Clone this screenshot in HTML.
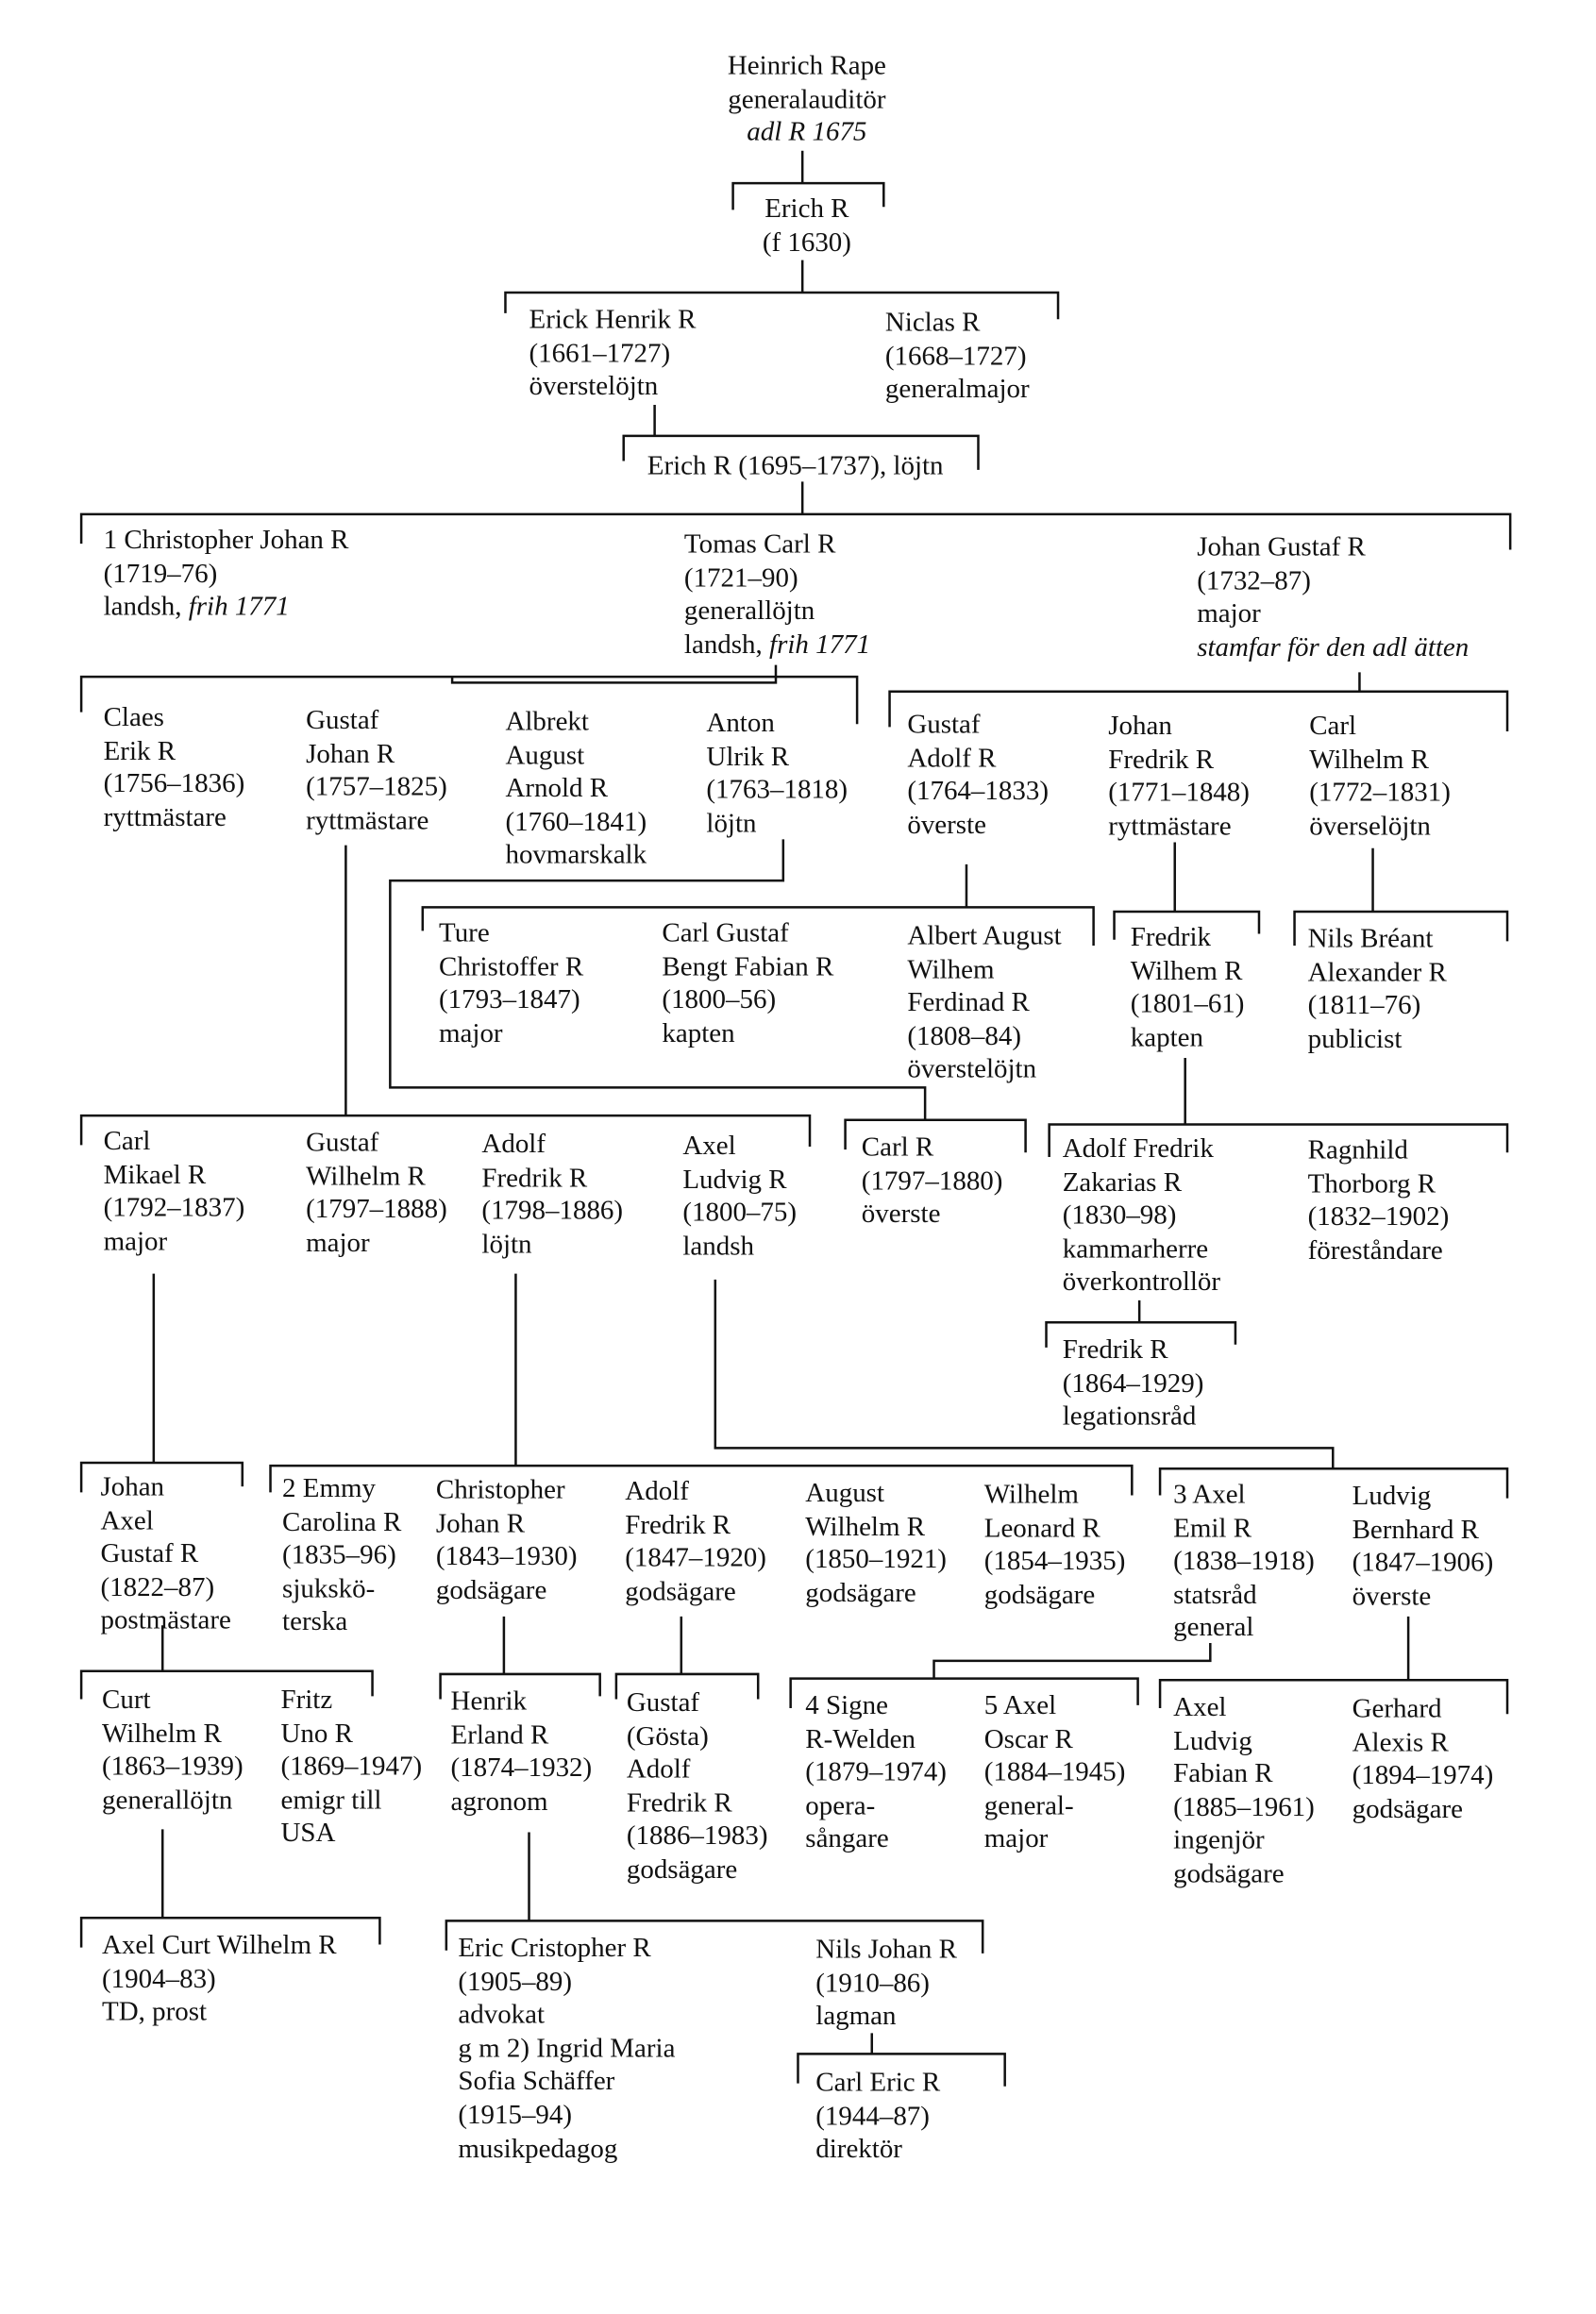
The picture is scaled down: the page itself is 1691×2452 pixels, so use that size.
<!DOCTYPE html>
<html><head><meta charset="utf-8"><style>
html,body{margin:0;padding:0;background:#fff;}
body{width:1691px;height:2452px;overflow:hidden;position:relative;}
#w{position:absolute;left:0;top:0;width:1080px;height:1566px;transform:scale(1.5657);transform-origin:0 0;}
.t{position:absolute;font-family:"Liberation Serif",serif;font-size:18.5px;line-height:22.6px;color:#111;white-space:nowrap;}
.c{text-align:center;transform:translateX(-50%);}
i{font-style:italic;}
svg{position:absolute;left:0;top:0;}
</style></head><body><div id="w">
<svg width="1080" height="1566" viewBox="0 0 1080 1566" fill="none" stroke="#111" stroke-width="1.6">
<path d="M543 102V124M496 142V124H598V140M543 176V198M342 212V198H716V216M443 274V295M422 312V295H662V318M543 326V348M55 368V348H1022V372"/>
<path d="M525 450V462H306V458M55 482V458H580V490M920 455V468M602 492V468H1020V495"/>
<path d="M530 568V596H264V736H626V758M572 778V758H694V780"/>
<path d="M654 585V614M286 630V614H740V640M795 570V617M754 636V617H852V632M929 574V617M876 640V617H1020V637"/>
<path d="M234 572V755M55 775V755H548V776M802 716V761M710 783V761H1020V780M771 880V895M708 912V895H836V910"/>
<path d="M104 862V990M55 1010V990H164V1006M349 862V992M183 1010V992H766V1012M484 866V980H902V994M785 1012V994H1020V1014"/>
<path d="M110 1100V1131M55 1150V1131H252V1148M341 1094V1133M298 1150V1133H406V1148M461 1094V1133M417 1150V1133H513V1150M819 1112V1124H632V1136M535 1156V1136H770V1154M953 1094V1137M785 1156V1137H1020V1160"/>
<path d="M110 1238V1298M55 1318V1298H257V1316M358 1240V1300M302 1320V1300H665V1322M590 1376V1390M540 1410V1390H680V1412"/>
</svg>
<div class="t c" style="left:546px;top:34px">Heinrich Rape<br>generalauditör<br><i>adl R 1675</i></div>
<div class="t c" style="left:546px;top:131px">Erich R<br>(f 1630)</div>
<div class="t" style="left:358px;top:206px">Erick Henrik R<br>(1661–1727)<br>överstelöjtn</div>
<div class="t" style="left:599px;top:208px">Niclas R<br>(1668–1727)<br>generalmajor</div>
<div class="t" style="left:438px;top:305px">Erich R (1695–1737), löjtn</div>
<div class="t" style="left:70px;top:355px">1 Christopher Johan R<br>(1719–76)<br>landsh, <i>frih 1771</i></div>
<div class="t" style="left:463px;top:358px">Tomas Carl R<br>(1721–90)<br>generallöjtn<br>landsh, <i>frih 1771</i></div>
<div class="t" style="left:810px;top:360px">Johan Gustaf R<br>(1732–87)<br>major<br><i>stamfar för den adl ätten</i></div>
<div class="t" style="left:70px;top:475px">Claes<br>Erik R<br>(1756–1836)<br>ryttmästare</div>
<div class="t" style="left:207px;top:477px">Gustaf<br>Johan R<br>(1757–1825)<br>ryttmästare</div>
<div class="t" style="left:342px;top:478px">Albrekt<br>August<br>Arnold R<br>(1760–1841)<br>hovmarskalk</div>
<div class="t" style="left:478px;top:479px">Anton<br>Ulrik R<br>(1763–1818)<br>löjtn</div>
<div class="t" style="left:614px;top:480px">Gustaf<br>Adolf R<br>(1764–1833)<br>överste</div>
<div class="t" style="left:750px;top:481px">Johan<br>Fredrik R<br>(1771–1848)<br>ryttmästare</div>
<div class="t" style="left:886px;top:481px">Carl<br>Wilhelm R<br>(1772–1831)<br>överselöjtn</div>
<div class="t" style="left:297px;top:621px">Ture<br>Christoffer R<br>(1793–1847)<br>major</div>
<div class="t" style="left:448px;top:621px">Carl Gustaf<br>Bengt Fabian R<br>(1800–56)<br>kapten</div>
<div class="t" style="left:614px;top:623px">Albert August<br>Wilhem<br>Ferdinad R<br>(1808–84)<br>överstelöjtn</div>
<div class="t" style="left:765px;top:624px">Fredrik<br>Wilhem R<br>(1801–61)<br>kapten</div>
<div class="t" style="left:885px;top:625px">Nils Bréant<br>Alexander R<br>(1811–76)<br>publicist</div>
<div class="t" style="left:70px;top:762px">Carl<br>Mikael R<br>(1792–1837)<br>major</div>
<div class="t" style="left:207px;top:763px">Gustaf<br>Wilhelm R<br>(1797–1888)<br>major</div>
<div class="t" style="left:326px;top:764px">Adolf<br>Fredrik R<br>(1798–1886)<br>löjtn</div>
<div class="t" style="left:462px;top:765px">Axel<br>Ludvig R<br>(1800–75)<br>landsh</div>
<div class="t" style="left:583px;top:766px">Carl R<br>(1797–1880)<br>överste</div>
<div class="t" style="left:719px;top:767px">Adolf Fredrik<br>Zakarias R<br>(1830–98)<br>kammarherre<br>överkontrollör</div>
<div class="t" style="left:885px;top:768px">Ragnhild<br>Thorborg R<br>(1832–1902)<br>föreståndare</div>
<div class="t" style="left:719px;top:903px">Fredrik R<br>(1864–1929)<br>legationsråd</div>
<div class="t" style="left:68px;top:996px">Johan<br>Axel<br>Gustaf R<br>(1822–87)<br>postmästare</div>
<div class="t" style="left:191px;top:997px">2 Emmy<br>Carolina R<br>(1835–96)<br>sjukskö-<br>terska</div>
<div class="t" style="left:295px;top:998px">Christopher<br>Johan R<br>(1843–1930)<br>godsägare</div>
<div class="t" style="left:423px;top:999px">Adolf<br>Fredrik R<br>(1847–1920)<br>godsägare</div>
<div class="t" style="left:545px;top:1000px">August<br>Wilhelm R<br>(1850–1921)<br>godsägare</div>
<div class="t" style="left:666px;top:1001px">Wilhelm<br>Leonard R<br>(1854–1935)<br>godsägare</div>
<div class="t" style="left:794px;top:1001px">3 Axel<br>Emil R<br>(1838–1918)<br>statsråd<br>general</div>
<div class="t" style="left:915px;top:1002px">Ludvig<br>Bernhard R<br>(1847–1906)<br>överste</div>
<div class="t" style="left:69px;top:1140px">Curt<br>Wilhelm R<br>(1863–1939)<br>generallöjtn</div>
<div class="t" style="left:190px;top:1140px">Fritz<br>Uno R<br>(1869–1947)<br>emigr till<br>USA</div>
<div class="t" style="left:305px;top:1141px">Henrik<br>Erland R<br>(1874–1932)<br>agronom</div>
<div class="t" style="left:424px;top:1142px">Gustaf<br>(Gösta)<br>Adolf<br>Fredrik R<br>(1886–1983)<br>godsägare</div>
<div class="t" style="left:545px;top:1144px">4 Signe<br>R-Welden<br>(1879–1974)<br>opera-<br>sångare</div>
<div class="t" style="left:666px;top:1144px">5 Axel<br>Oscar R<br>(1884–1945)<br>general-<br>major</div>
<div class="t" style="left:794px;top:1145px">Axel<br>Ludvig<br>Fabian R<br>(1885–1961)<br>ingenjör<br>godsägare</div>
<div class="t" style="left:915px;top:1146px">Gerhard<br>Alexis R<br>(1894–1974)<br>godsägare</div>
<div class="t" style="left:69px;top:1306px">Axel Curt Wilhelm R<br>(1904–83)<br>TD, prost</div>
<div class="t" style="left:310px;top:1308px">Eric Cristopher R<br>(1905–89)<br>advokat<br>g m 2) Ingrid Maria<br>Sofia Schäffer<br>(1915–94)<br>musikpedagog</div>
<div class="t" style="left:552px;top:1309px">Nils Johan R<br>(1910–86)<br>lagman</div>
<div class="t" style="left:552px;top:1399px">Carl Eric R<br>(1944–87)<br>direktör</div>
</div></body></html>
